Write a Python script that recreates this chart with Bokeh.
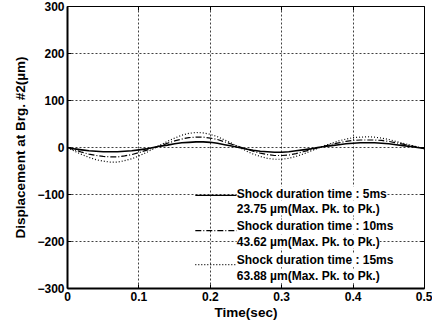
from bokeh.plotting import figure
from bokeh.models import LinearAxis, Label, Arrow, FixedTicker, Range1d
from bokeh.embed import file_html
from bokeh.resources import INLINE

time_s = [0.00, 0.01, 0.02, 0.03, 0.04, 0.05, 0.06, 0.07, 0.08, 0.09,
          0.10, 0.11, 0.12, 0.13, 0.14, 0.15, 0.16, 0.17, 0.18, 0.19,
          0.20, 0.21, 0.22, 0.23, 0.24, 0.25, 0.26, 0.27, 0.28, 0.29,
          0.30, 0.31, 0.32, 0.33, 0.34, 0.35, 0.36, 0.37, 0.38, 0.39,
          0.40, 0.41, 0.42, 0.43, 0.44, 0.45, 0.46, 0.47, 0.48, 0.49, 0.50]

disp_5ms = [0, -3, -5, -7, -8, -9, -9, -9, -8, -7,
            -5, -3, 0, 3, 5, 8, 10, 11, 12, 12,
            11, 9, 6, 3, 0, -3, -6, -8, -9, -10,
            -10, -9, -7, -5, -3, 0, 2, 4, 6, 8,
            9, 10, 10, 10, 9, 8, 6, 4, 2, 0, -2]

disp_10ms = [0, -5, -10, -14, -17, -19, -20, -20, -18, -15,
             -11, -6, -1, 4, 9, 14, 18, 21, 22, 22,
             20, 17, 12, 7, 2, -3, -8, -12, -15, -17,
             -17, -16, -13, -9, -5, -1, 3, 7, 10, 13,
             15, 16, 16, 16, 15, 13, 10, 7, 4, 1, -2]

disp_15ms = [0, -8, -15, -21, -26, -29, -31, -31, -28, -24,
             -18, -11, -3, 5, 13, 20, 26, 30, 32, 31,
             28, 23, 16, 9, 1, -7, -14, -19, -23, -25,
             -25, -23, -19, -14, -8, -2, 4, 9, 14, 18,
             21, 22, 23, 22, 20, 17, 13, 9, 5, 1, -3]

x_ticks = [0, 0.1, 0.2, 0.3, 0.4, 0.5]
y_ticks = [-300, -200, -100, 0, 100, 200, 300]

legend_lines1 = ["Shock duration time : 5ms",
                 "Shock duration time : 10ms",
                 "Shock duration time : 15ms"]
legend_lines2 = ["23.75 \u00b5m(Max. Pk. to Pk.)",
                 "43.62 \u00b5m(Max. Pk. to Pk.)",
                 "63.88 \u00b5m(Max. Pk. to Pk.)"]

FONT = "Liberation Sans"

p = figure(frame_width=357, frame_height=282, output_backend="svg",
           toolbar_location=None, x_range=Range1d(0, 0.5),
           y_range=Range1d(-300, 300),
           min_border_left=67, min_border_top=6, min_border_right=8,
           min_border_bottom=0)
p.outline_line_color = None
p.background_fill_color = "white"
p.border_fill_color = "white"

for ax in [p.xaxis[0], p.yaxis[0]]:
    ax.major_label_text_font = FONT
    ax.major_label_text_font_style = "bold"
    ax.major_label_text_font_size = "12px"
    ax.major_label_text_color = "black"
    ax.axis_label_text_font = FONT
    ax.axis_label_text_font_style = "bold"
    ax.axis_label_text_font_size = "13.5px"
    ax.axis_label_text_color = "black"
    ax.major_tick_in = 4
    ax.major_tick_out = 0
    ax.minor_tick_line_color = None
    ax.axis_line_width = 2
    ax.axis_line_color = "black"
    ax.major_tick_line_color = "black"
    ax.major_label_standoff = 3

p.xaxis[0].ticker = FixedTicker(ticks=x_ticks)
p.yaxis[0].ticker = FixedTicker(ticks=y_ticks)
p.xaxis[0].axis_label = "Time(sec)"
p.yaxis[0].axis_label = "Displacement at Brg. #2(\u00b5m)"
p.xaxis[0].axis_label_standoff = 1
p.yaxis[0].axis_label_standoff = 6
p.yaxis[0].major_label_standoff = 3

for loc in ["above", "right"]:
    ticks = x_ticks if loc == "above" else y_ticks
    ax = LinearAxis(ticker=FixedTicker(ticks=ticks))
    ax.major_label_overrides = {t: "" for t in ticks}
    ax.major_label_standoff = 0
    ax.major_tick_in = 4
    ax.major_tick_out = 0
    ax.minor_tick_line_color = None
    ax.axis_line_color = "black"
    ax.axis_line_width = 1
    ax.major_tick_line_color = "black"
    p.add_layout(ax, loc)

for g in [p.xgrid[0], p.ygrid[0]]:
    g.grid_line_color = "black"
    g.grid_line_dash = "2 2"
    g.grid_line_width = 1
    g.grid_line_alpha = 0.75
p.xgrid[0].ticker = FixedTicker(ticks=x_ticks)
p.ygrid[0].ticker = FixedTicker(ticks=y_ticks)

p.line(time_s, disp_15ms, line_color="black", line_width=1.2, line_dash="1 2")
p.line(time_s, disp_10ms, line_color="black", line_width=1.2, line_dash="6 2 1 2")
p.line(time_s, disp_5ms, line_color="black", line_width=1.6)

# manual legend
dashes = ["solid", "6 2 1 2", "1 2"]
sample_y = [-102, -177, -249]
text1_y = [-98, -168, -240]
text2_y = [-130, -200, -274]
for i in range(3):
    p.add_layout(Arrow(x_start=0.179, y_start=sample_y[i], x_end=0.237,
                       y_end=sample_y[i], end=None, line_color="black",
                       line_width=1.2, line_dash=dashes[i]))
    for txt, yy in [(legend_lines1[i], text1_y[i]), (legend_lines2[i], text2_y[i])]:
        p.add_layout(Label(x=0.237, y=yy, text=txt, text_font=FONT,
                           text_font_style="bold", text_font_size="12px",
                           text_color="black", text_baseline="middle",
                           background_fill_color="white",
                           background_fill_alpha=1.0))

open("out.html", "w").write(file_html(p, INLINE))
